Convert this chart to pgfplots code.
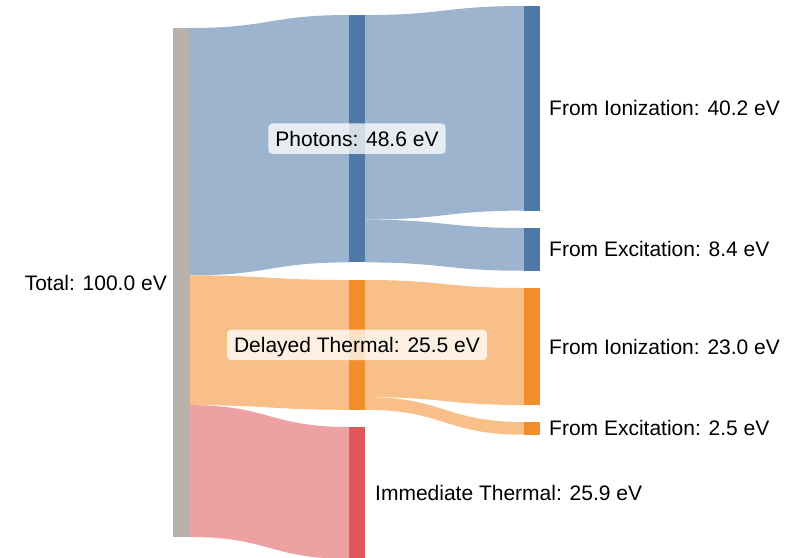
\documentclass[border=0pt]{standalone}
\usepackage{fontspec}
\setmainfont{Liberation Sans}
\usepackage{pgfplots}
\pgfplotsset{compat=1.18}

\definecolor{cgray}{HTML}{BAB0AC}
\definecolor{cblue}{HTML}{4E79A7}
\definecolor{corange}{HTML}{F28E2B}
\definecolor{cred}{HTML}{E15759}

% ribbon: colour, x0, x1, xmid, source top, source bottom, target top, target bottom
\newcommand{\ribbon}[8]{%
  \fill[#1] (axis cs:#2,#5) .. controls (axis cs:#4,#5) and (axis cs:#4,#7) .. (axis cs:#3,#7)
    -- (axis cs:#3,#8) .. controls (axis cs:#4,#8) and (axis cs:#4,#6) .. (axis cs:#2,#6) -- cycle;}

\begin{document}
\fontsize{21bp}{25bp}\selectfont
\begin{tikzpicture}[
    lbl/.style={font=\fontsize{21bp}{25bp}\selectfont, inner sep=0pt, yshift=-7.5bp},
    box/.style={font=\fontsize{21bp}{25bp}\selectfont, fill=white, fill opacity=0.75, text opacity=1,
        rounded corners=4bp, inner xsep=7bp, inner ysep=7.5bp, text height=15.5bp, text depth=0bp},
]
\begin{axis}[
    width=798bp, height=558bp, scale only axis,
    hide axis,
    xmin=0, xmax=798,
    ymin=-5.501, ymax=104.126,
    y dir=reverse,
]
% links (values in eV)
\ribbon{cblue!56!white}{190}{349}{269.5}{0}{48.6}{-2.55}{46.05}
\ribbon{corange!56!white}{190}{349}{269.5}{48.6}{74.1}{49.51}{75.01}
\ribbon{cred!56!white}{190}{349}{269.5}{74.1}{100}{78.39}{104.29}
\ribbon{cblue!56!white}{365}{524}{444.5}{-2.55}{37.65}{-4.32}{35.88}
\ribbon{cblue!56!white}{365}{524}{444.5}{37.65}{46.05}{39.29}{47.69}
\ribbon{corange!56!white}{365}{524}{444.5}{49.51}{72.51}{51.08}{74.08}
\ribbon{corange!56!white}{365}{524}{444.5}{72.51}{75.01}{77.41}{79.91}

% nodes
\addplot[fill=cgray, draw=none] coordinates {(173,0) (190,0) (190,100) (173,100)} --cycle;
\addplot[fill=cblue, draw=none] coordinates {(349,-2.55) (365,-2.55) (365,46.05) (349,46.05)} --cycle;
\addplot[fill=corange, draw=none] coordinates {(349,49.51) (365,49.51) (365,75.01) (349,75.01)} --cycle;
\addplot[fill=cred, draw=none] coordinates {(349,78.39) (365,78.39) (365,104.29) (349,104.29)} --cycle;
\addplot[fill=cblue, draw=none] coordinates {(524,-4.32) (540,-4.32) (540,35.88) (524,35.88)} --cycle;
\addplot[fill=cblue, draw=none] coordinates {(524,39.29) (540,39.29) (540,47.69) (524,47.69)} --cycle;
\addplot[fill=corange, draw=none] coordinates {(524,51.08) (540,51.08) (540,74.08) (524,74.08)} --cycle;
\addplot[fill=corange, draw=none] coordinates {(524,77.41) (540,77.41) (540,79.91) (524,79.91)} --cycle;

% labels
\node[lbl, anchor=base east] at (axis cs:167,50) {Total: 100.0 eV};
\node[box] at (axis cs:357,21.75) {Photons: 48.6 eV};
\node[box] at (axis cs:357,62.26) {Delayed Thermal: 25.5 eV};
\node[lbl, anchor=base west] at (axis cs:375,91.34) {Immediate Thermal: 25.9 eV};
\node[lbl, anchor=base west] at (axis cs:549,15.78) {From Ionization: 40.2 eV};
\node[lbl, anchor=base west] at (axis cs:549,43.49) {From Excitation: 8.4 eV};
\node[lbl, anchor=base west] at (axis cs:549,62.58) {From Ionization: 23.0 eV};
\node[lbl, anchor=base west] at (axis cs:549,78.66) {From Excitation: 2.5 eV};
\end{axis}
\pgfresetboundingbox
\useasboundingbox (current axis.south west) rectangle (current axis.north east);
\end{tikzpicture}
\end{document}
